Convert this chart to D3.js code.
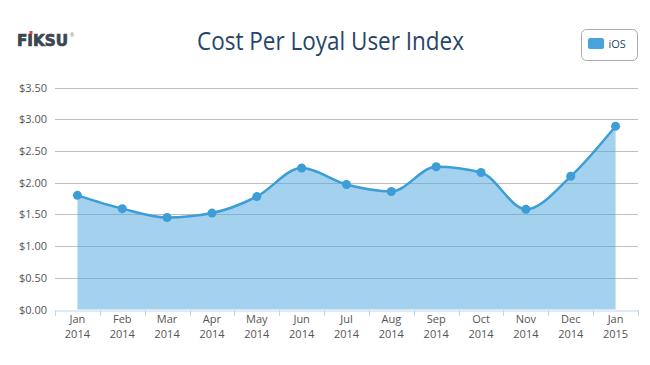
<!DOCTYPE html>
<html>
<head>
<meta charset="utf-8">
<script src="https://cdn.jsdelivr.net/npm/d3@7"></script>
<style>
  body { margin: 0; background: #fff; }
  svg { display: block; font-family: "Open Sans", sans-serif; }
</style>
</head>
<body>
<div id="chart"></div>
<script>
// datos
const months = ["Jan", "Feb", "Mar", "Apr", "May", "Jun", "Jul", "Aug", "Sep", "Oct", "Nov", "Dec", "Jan"];
const years = ["2014", "2014", "2014", "2014", "2014", "2014", "2014", "2014", "2014", "2014", "2014", "2014", "2015"];
const iosValues = [1.80, 1.59, 1.45, 1.52, 1.78, 2.23, 1.97, 1.86, 2.25, 2.16, 1.58, 2.10, 2.89];
const yTicks = [0, 0.5, 1, 1.5, 2, 2.5, 3, 3.5];

const width = 650, height = 365;
const plotLeft = 55, plotRight = 638, plotTop = 87.5, plotBottom = 309.5;

const svg = d3.select("#chart").append("svg")
    .attr("width", width)
    .attr("height", height);

const keys = months.map((m, i) => i);
const x = d3.scaleBand().domain(keys).range([plotLeft, plotRight]);
const y = d3.scaleLinear().domain([0, 3.5]).range([plotBottom, plotTop]);
const cx = i => x(i) + x.bandwidth() / 2;

// lineas de la cuadricula
svg.append("g")
    .selectAll("line")
    .data(yTicks.filter(d => d > 0))
    .enter()
    .append("line")
    .attr("x1", plotLeft)
    .attr("x2", plotRight)
    .attr("y1", d => Math.round(y(d)) + 0.5)
    .attr("y2", d => Math.round(y(d)) + 0.5)
    .attr("stroke", "#c0c0c0")
    .attr("stroke-width", 1);

// area y linea
const area = d3.area()
    .x((d, i) => cx(i))
    .y0(y(0))
    .y1(d => y(d))
    .curve(d3.curveMonotoneX);

const line = d3.line()
    .x((d, i) => cx(i))
    .y(d => y(d))
    .curve(d3.curveMonotoneX);

svg.append("path")
    .datum(iosValues)
    .attr("d", area)
    .attr("fill", "#4aa3db")
    .attr("fill-opacity", 0.5);

svg.append("path")
    .datum(iosValues)
    .attr("d", line)
    .attr("fill", "none")
    .attr("stroke", "#3d9dd6")
    .attr("stroke-width", 2.5);

svg.append("g")
    .selectAll("circle")
    .data(iosValues)
    .enter()
    .append("circle")
    .attr("cx", (d, i) => cx(i))
    .attr("cy", d => y(d))
    .attr("r", 4.5)
    .attr("fill", "#3d9dd6");

// eje x
const xAxis = svg.append("g")
    .attr("transform", `translate(0,${Math.round(y(0)) + 0.5})`)
    .call(d3.axisBottom(x).tickSize(0).tickFormat(""));
xAxis.select(".domain").attr("stroke", "#c0d8ea");

svg.append("g")
    .selectAll("line")
    .data(keys.concat([keys.length]))
    .enter()
    .append("line")
    .attr("x1", i => Math.round(plotLeft + i * x.bandwidth()) + 0.5)
    .attr("x2", i => Math.round(plotLeft + i * x.bandwidth()) + 0.5)
    .attr("y1", Math.round(y(0)))
    .attr("y2", Math.round(y(0)) + 6)
    .attr("stroke", "#c0d8ea");

const xLabels = svg.append("g")
    .selectAll("text")
    .data(keys)
    .enter()
    .append("text")
    .attr("text-anchor", "middle")
    .attr("fill", "#555")
    .attr("font-size", "11px");
xLabels.append("tspan")
    .attr("x", i => cx(i))
    .attr("y", 323)
    .text(i => months[i]);
xLabels.append("tspan")
    .attr("x", i => cx(i))
    .attr("y", 338)
    .text(i => years[i]);

// eje y
svg.append("g")
    .selectAll("text")
    .data(yTicks)
    .enter()
    .append("text")
    .attr("x", 47)
    .attr("y", d => y(d) + 4)
    .attr("text-anchor", "end")
    .attr("fill", "#555")
    .attr("font-size", "11px")
    .text(d => "$" + d.toFixed(2));

// titulo
svg.append("text")
    .attr("x", 197)
    .attr("y", 50)
    .attr("fill", "#26456a")
    .attr("font-size", "25px")
    .attr("textLength", 267)
    .attr("lengthAdjust", "spacingAndGlyphs")
    .text("Cost Per Loyal User Index");

// logo
svg.append("text")
    .attr("x", 17)
    .attr("y", 45.5)
    .attr("fill", "#3b4650")
    .attr("stroke", "#3b4650")
    .attr("stroke-width", 0.7)
    .attr("font-size", "15px")
    .attr("font-weight", "bold")
    .attr("font-family", "'DejaVu Sans', sans-serif")
    .attr("textLength", 51)
    .attr("lengthAdjust", "spacingAndGlyphs")
    .text("FIKSU");
svg.append("rect")
    .attr("x", 29.5)
    .attr("y", 31)
    .attr("width", 3)
    .attr("height", 3)
    .attr("fill", "#e8402c");
svg.append("text")
    .attr("x", 70)
    .attr("y", 37)
    .attr("fill", "#888")
    .attr("font-size", "5px")
    .text("®");

// leyenda
const legend = svg.append("g").attr("transform", "translate(581.5,29.5)");
legend.append("rect")
    .attr("width", 56)
    .attr("height", 31)
    .attr("rx", 5)
    .attr("fill", "#fff")
    .attr("stroke", "#aaa");
legend.append("rect")
    .attr("x", 6.5)
    .attr("y", 8.5)
    .attr("width", 16)
    .attr("height", 11)
    .attr("rx", 2)
    .attr("fill", "#4aa3db");
legend.append("text")
    .attr("x", 27)
    .attr("y", 18.5)
    .attr("fill", "#26456a")
    .attr("font-size", "11px")
    .text("iOS");
</script>
</body>
</html>
